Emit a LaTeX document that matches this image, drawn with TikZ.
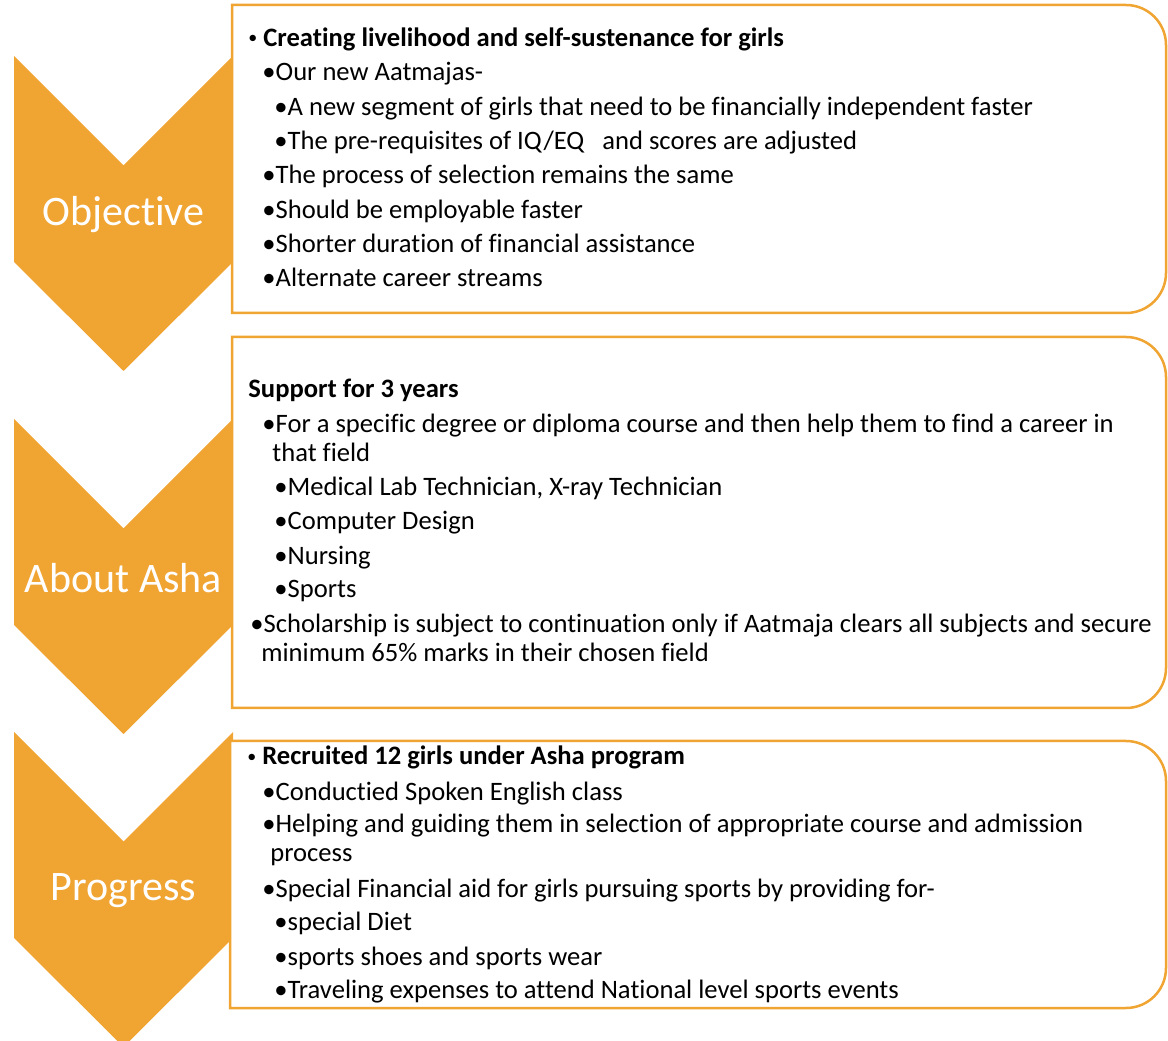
\documentclass[tikz,border=0pt]{standalone}
\usepackage{fontspec}
\setmainfont[Ligatures=NoCommon]{Carlito}
\usepackage{tikz}
\definecolor{ashaorange}{RGB}{240,164,50}
\newcommand{\hdot}{{\fontsize{9}{9}\selectfont\mdseries\raisebox{1.5pt}{•}}\hspace{3pt}}

\begin{document}
\begin{tikzpicture}[x=0.5pt,y=0.5pt,
  chevron/.style={fill=ashaorange,draw=none},
  stage/.style={text=white,font=\fontsize{21}{25}\selectfont,inner sep=0pt},
  panel/.style={draw=ashaorange,line width=1.25pt,fill=white},
  item/.style={anchor=base west,inner sep=0pt,font=\fontsize{13.3}{15}\selectfont},
  head/.style={item,font=\fontsize{13.3}{15}\selectfont\bfseries}]

\useasboundingbox (0,0) rectangle (1168,1040);

\foreach \t/\lab/\nm in {984/Objective/obj,621/About Asha/abt,308/Progress/prg}{
  \fill[chevron] (14,\t) -- (123.5,\t-109.5) -- (233,\t) -- (233,\t-206) -- (123.5,\t-315) -- (14,\t-206) -- cycle;
  \node[stage] (\nm) at (123.5,\t-159) {\lab};
}

\draw[panel] (232,1035) -- (1126,1035) arc[start angle=90,end angle=0,radius=20pt] -- (1166,767) arc[start angle=0,end angle=-90,radius=20pt] -- (232,727) -- cycle;
\draw[panel] (232,703) -- (1126,703) arc[start angle=90,end angle=0,radius=20pt] -- (1166,372) arc[start angle=0,end angle=-90,radius=20pt] -- (232,332) -- cycle;
\draw[panel] (230,299) -- (1126,299) arc[start angle=90,end angle=0,radius=20pt] -- (1166,72) arc[start angle=0,end angle=-90,radius=20pt] -- (230,32) -- cycle;

\node[head] (o1) at (248,993) {\hdot Creating livelihood and self-sustenance for girls};
\node[item] (o2) at (262,959) {•Our new Aatmajas-};
\node[item] (o3) at (274,924) {•A new segment of girls that need to be financially independent faster};
\node[item] (o4) at (274,890) {•The pre-requisites of IQ/EQ\ \ \ and scores are adjusted};
\node[item] (o5) at (262,856) {•The process of selection remains the same};
\node[item] (o6) at (262,821) {•Should be employable faster};
\node[item] (o7) at (262,787) {•Shorter duration of financial assistance};
\node[item] (o8) at (262,753) {•Alternate career streams};

\node[head] (a1) at (248,642) {Support for 3 years};
\node[item] (a2) at (262,607) {•For a specific degree or diploma course and then help them to find a career in};
\node[item] (a3) at (272,578) {that field};
\node[item] (a4) at (274,544) {•Medical Lab Technician, X-ray Technician};
\node[item] (a5) at (274,510) {•Computer Design};
\node[item] (a6) at (274,475) {•Nursing};
\node[item] (a7) at (274,442) {•Sports};
\node[item] (a8) at (250,407) {•Scholarship is subject to continuation only if Aatmaja clears all subjects and secure};
\node[item] (a9) at (261,378) {minimum 65\% marks in their chosen field};

\node[head] (p1) at (247,275) {\hdot Recruited 12 girls under Asha program};
\node[item] (p2) at (262,240) {•Conductied Spoken English class};
\node[item] (p3) at (262,207) {•Helping and guiding them in selection of appropriate course and admission};
\node[item] (p4) at (270,178) {process};
\node[item] (p5) at (262,143) {•Special Financial aid for girls pursuing sports by providing for-};
\node[item] (p6) at (274,110) {•special Diet};
\node[item] (p7) at (274,75) {•sports shoes and sports wear};
\node[item] (p8) at (274,42) {•Traveling expenses to attend National level sports events};

\end{tikzpicture}
\end{document}
